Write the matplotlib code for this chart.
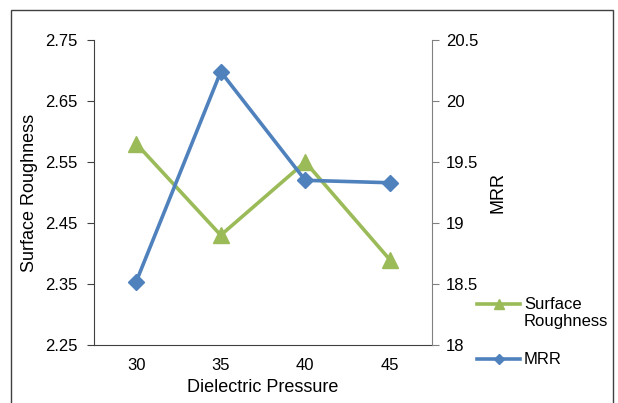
import numpy as np
import matplotlib.pyplot as plt
from matplotlib.patches import Rectangle
from matplotlib.lines import Line2D

plt.rcParams['font.family'] = ['Liberation Sans', 'DejaVu Sans']

# data
pressure = ['30', '35', '40', '45']
roughness = [2.58, 2.43, 2.55, 2.39]
mrr = [18.52, 20.24, 19.35, 19.33]

green = '#9BBB59'
blue = '#4F81BD'

W, H = 618, 403
fig = plt.figure(figsize=(W / 100, H / 100), dpi=100)

# outer chart frame
fig.patches.append(Rectangle((11 / W, -0.05), (613 - 11) / W, 1.05 - 10 / H,
                             transform=fig.transFigure, fill=False,
                             edgecolor='#404040', linewidth=1.0))

ax = fig.add_axes([94 / W, 1 - 345 / H, (432 - 94) / W, (345 - 40) / H])
ax2 = ax.twinx()

x = np.arange(len(pressure))
ax.plot(x, roughness, color=green, lw=2.6, marker='^', ms=11, zorder=3)
ax2.plot(x, mrr, color=blue, lw=2.6, marker='D', ms=8.5, zorder=3)

ax.set_xlim(-0.5, 3.5)
ax.set_ylim(2.25, 2.75)
ax.set_yticks([2.25, 2.35, 2.45, 2.55, 2.65, 2.75])
ax.set_yticklabels(['2.25', '2.35', '2.45', '2.55', '2.65', '2.75'])
ax2.set_ylim(18, 20.5)
ax2.set_yticks([18, 18.5, 19, 19.5, 20, 20.5])
ax2.set_yticklabels(['18', '18.5', '19', '19.5', '20', '20.5'])
ax.set_xticks(x)
ax.set_xticklabels(pressure)

for a in (ax, ax2):
    a.spines['top'].set_visible(False)
    a.patch.set_visible(False)
ax2.spines['left'].set_visible(False)
ax2.spines['bottom'].set_visible(False)
ax.spines['right'].set_visible(False)
ax.spines['left'].set_color('#404040')
ax.spines['bottom'].set_color('#404040')
ax2.spines['right'].set_color('#808080')

ax.tick_params(axis='y', direction='out', length=5, color='#404040', labelsize=12, pad=7)
ax.tick_params(axis='x', length=0, labelsize=12, pad=9)
ax2.tick_params(axis='y', direction='out', length=5, color='#808080', labelsize=12, pad=5)

ax.set_xlabel('Dielectric Pressure', fontsize=13, labelpad=5)
ax.set_ylabel('Surface Roughness', fontsize=13, labelpad=5)
ax2.set_ylabel('MRR', fontsize=13, labelpad=8)

# legend drawn outside the axes, lower right
leg_items = [(green, '^', 7, 'Surface\nRoughness', 304),
             (blue, 'D', 5, 'MRR', 359)]
for col, mk, size, label, ypx in leg_items:
    y = 1 - ypx / H
    fig.add_artist(Line2D([477 / W, 520 / W], [y, y], color=col, lw=2.6,
                          transform=fig.transFigure))
    fig.add_artist(Line2D([498.5 / W], [y], color=col, marker=mk, ms=size,
                          transform=fig.transFigure))
    fig.text(524 / W, y + 7 / H, label, fontsize=12, va='top', ha='left',
             linespacing=1.15)

fig.savefig('out.png', dpi=100)
